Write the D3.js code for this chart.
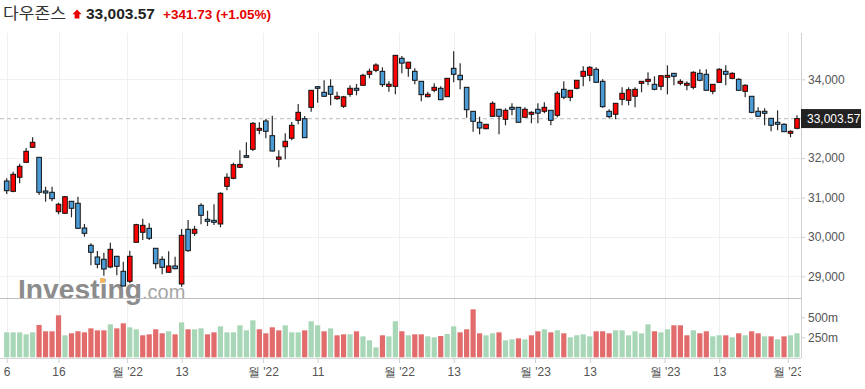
<!DOCTYPE html>
<html>
<head>
<meta charset="utf-8">
<script src="https://cdn.jsdelivr.net/npm/d3@7"></script>
<style>
  body { margin: 0; background: #fff; }
  svg { display: block; }
  text { font-family: "Liberation Sans", Arial, sans-serif; }
</style>
</head>
<body>
<div id="chart"></div>
<script>
// daily candles, Sep 6 2022 .. Mar 2 2023
var opens = [31419,31157,31513,31893,32274,32020,31165,31132,30640,30599,
  30904,30853,30226,29787,29490,29432,29236,29508,29127,28873,
  29863,30117,30218,29711,29432,29102,29262,28805,30193,30091,
  30802,30447,30421,30328,31284,31487,31767,32061,32223,32706,
  32942,32569,31970,32289,32503,32959,33000,33289,33812,33670,
  33822,33508,33315,33619,33772,33848,34127,34228,34203,33822,
  33822,34533,34279,34203,33949,33558,33721,33772,33558,34279,
  34102,33797,33188,32909,32746,33061,33239,32985,33289,33289,
  33036,33112,33239,33188,33213,33086,33746,33543,33772,34076,
  34102,34254,33949,33188,33112,33492,33467,33569,33898,33949,
  33873,33822,34051,34152,33898,33848,33797,34152,34127,33695,
  33924,34203,34025,34000,33695,33569,33188,33188,33010,32909,
  32858,32630,32756];
var highs = [31487,31655,31858,32256,32528,32030,31274,31274,30868,31038,
  30910,31020,30328,29838,29642,29599,29853,29515,29371,29650,
  30335,30462,30345,29720,29508,29635,29498,30201,30429,30277,
  30853,30665,30828,31132,31614,31883,32198,32401,32916,32909,
  32992,33076,32198,32629,32916,33373,33069,33730,33820,33975,
  34000,33685,33580,33848,33881,34142,34269,34406,34305,33949,
  34615,34591,34440,34279,33960,33685,33898,33822,34030,34711,
  34406,33800,33195,33051,32865,33442,33245,33264,33391,33295,
  33289,33188,33391,33416,33220,33695,33949,33730,33980,34330,
  34330,34305,34000,33239,33400,33797,33797,33797,33955,34178,
  34076,34110,34355,34160,34000,33949,34203,34254,34254,33880,
  34279,34355,34178,34025,33873,33575,33289,33264,33020,33213,
  32883,32706,33086];
var lows = [31089,31132,31360,31880,32260,31063,30893,30904,30574,30581,
  30498,30210,30005,29279,29203,29016,29203,29026,28740,28822,
  29860,29921,29921,29193,29051,29092,29180,28736,29624,30023,
  30320,30277,30302,30244,31183,31462,31749,32010,32180,32604,
  32503,32170,31767,31970,32452,32858,32510,33178,33406,33560,
  33340,33475,33272,33558,33594,33840,34025,34178,33805,33685,
  33619,34152,34066,33873,33442,33543,33670,33475,33550,33924,
  33746,33025,32670,32604,32731,33050,32604,32833,33086,32900,
  33030,32883,32883,33137,32833,33036,33492,33442,33746,33822,
  33949,33915,33279,33010,32985,33340,33340,33289,33670,33848,
  33721,33721,33619,33848,33848,33721,33746,33949,33715,33619,
  33915,33848,34000,33715,33543,33137,33055,32833,32680,32706,
  32665,32528,32731];
var closes = [31173,31589,31792,32173,32401,31132,31114,30970,30828,31020,
  30726,30218,30091,29609,29305,29185,29685,29254,28754,29508,
  30310,30294,29965,29320,29229,29262,29193,30041,29650,30193,
  30548,30396,30370,31107,31513,31833,31840,32020,32883,32756,
  32680,32180,32028,32426,32833,33162,32518,33721,33772,33569,
  33619,33569,33555,33772,33721,34102,34203,34363,33865,33875,
  34609,34410,34435,33975,33610,33620,33797,33482,34025,34127,
  33990,33228,32934,32764,32858,33391,33061,33213,33239,32909,
  33239,33162,33140,33289,32959,33645,33543,33721,33975,34203,
  34305,33924,33305,33051,33391,33645,33735,33745,33949,34000,
  33746,34090,34100,34076,33949,33898,34178,33975,33721,33873,
  34254,34127,34152,33721,33848,33162,33061,33137,32833,32858,
  32670,32680,33003.57];
// volume, millions
var volumes = [312,312,312,287,312,404,325,325,525,275,
  300,325,312,362,337,337,412,362,425,375,
  350,275,287,350,300,325,287,437,350,350,
  362,287,312,387,312,312,400,337,462,350,
  300,375,337,400,312,312,337,450,400,325,
  362,275,287,287,325,262,212,125,275,262,
  450,325,275,287,287,262,250,266,291,387,
  312,350,600,300,275,300,312,212,225,237,
  225,275,325,350,312,337,300,250,275,287,
  262,325,325,300,337,337,275,325,300,412,
  325,312,350,400,400,275,337,300,325,262,
  275,275,250,300,275,325,300,262,262,225,
  262,275,300];

var tickIdx = [0, 8, 18.55, 27, 39.55, 48, 60.55, 69, 81.55, 90, 101.55, 110, 120.6];
var tickLabels = ["6", "16", "월 '22", "13", "월 '22", "11", "월 '22", "13",
  "월 '23", "13", "월 '23", "13", "월 '23"];
// 33,000 sits under the last-price tag, so it has no label
var priceTicks = [29000, 30000, 31000, 32000, 34000];
var volTicks = [250, 500];
var lastPrice = 33003.57;

var width = 865, height = 389,
    plotRight = 801, plotTop = 33, priceBottom = 298, axisY = 358;

var x = d3.scaleLinear().domain([0, 122]).range([6.7, 797]);
var y = d3.scaleLinear().domain([29000, 34000]).range([276.3, 79.3]);
var yv = d3.scaleLinear().domain([0, 500]).range([357.3, 317.3]);

var svg = d3.select("#chart").append("svg")
    .attr("width", width)
    .attr("height", height);

svg.append("defs").append("clipPath").attr("id", "plotclip")
  .append("rect").attr("x", 0).attr("y", 0).attr("width", plotRight).attr("height", height);

// grid
svg.append("g").selectAll("line")
    .data(priceTicks)
    .enter().append("line")
    .attr("x1", 0).attr("x2", plotRight)
    .attr("y1", function(d) { return Math.round(y(d)) + 0.5; })
    .attr("y2", function(d) { return Math.round(y(d)) + 0.5; })
    .style("stroke", "#f0f0f0");

svg.append("g").selectAll("line")
    .data(tickIdx)
    .enter().append("line")
    .attr("x1", function(d) { return Math.round(x(d)) + 0.5; })
    .attr("x2", function(d) { return Math.round(x(d)) + 0.5; })
    .attr("y1", plotTop).attr("y2", axisY)
    .style("stroke", "#f0f0f0");

// watermark (sits behind the candles)
var wm = svg.append("text")
    .attr("x", 18).attr("y", 299)
    .style("font-size", "28px");
wm.append("tspan")
    .style("font-weight", "bold")
    .style("fill", "#8c8c8c")
    .attr("textLength", 124)
    .attr("lengthAdjust", "spacingAndGlyphs")
    .text("Investing");
wm.append("tspan")
    .style("font-size", "20px")
    .style("fill", "#a6a6a6")
    .text(".com");
svg.append("rect")
    .attr("x", 100).attr("y", 278).attr("width", 5).attr("height", 5)
    .style("fill", "#f5b75f");

// panel separators
svg.append("line")
    .attr("x1", 0).attr("x2", plotRight)
    .attr("y1", priceBottom + 0.5).attr("y2", priceBottom + 0.5)
    .style("stroke", "#bdbdbd");

svg.append("line")
    .attr("x1", plotRight + 0.5).attr("x2", plotRight + 0.5)
    .attr("y1", plotTop).attr("y2", axisY)
    .style("stroke", "#d0d0d0");

// last price dashed line
svg.append("line")
    .attr("x1", 0).attr("x2", plotRight)
    .attr("y1", y(lastPrice)).attr("y2", y(lastPrice))
    .style("stroke", "#c8c8c8")
    .style("stroke-width", 1.3)
    .style("stroke-dasharray", "4,3");

// volume bars
svg.append("g").selectAll("rect")
    .data(volumes)
    .enter().append("rect")
    .attr("x", function(d, i) { return x(i) - 2.6; })
    .attr("width", 5.2)
    .attr("y", function(d) { return yv(d); })
    .attr("height", function(d) { return yv(0) - yv(d); })
    .style("fill", function(d, i) {
        if (i == 0 || closes[i] >= closes[i - 1]) return "#a7d7b6";
        return "#e26c6c";
    });

// candles
var candles = svg.append("g").selectAll("g")
    .data(closes)
    .enter().append("g");

candles.append("line")
    .attr("x1", function(d, i) { return x(i); })
    .attr("x2", function(d, i) { return x(i); })
    .attr("y1", function(d, i) { return y(highs[i]); })
    .attr("y2", function(d, i) { return y(lows[i]); })
    .style("stroke", "#2b2b2b")
    .style("stroke-width", 1.2);

candles.append("rect")
    .attr("x", function(d, i) { return x(i) - 2.3; })
    .attr("width", 4.6)
    .attr("y", function(d, i) { return y(Math.max(opens[i], d)); })
    .attr("height", function(d, i) {
        return Math.max(1.5, Math.abs(y(opens[i]) - y(d)));
    })
    .style("fill", function(d, i) { return d >= opens[i] ? "#ff0000" : "#4b9bd6"; })
    .style("stroke", "#111")
    .style("stroke-width", 1);

// x axis
var xAxis = svg.append("g")
    .attr("clip-path", "url(#plotclip)")
    .attr("transform", "translate(0," + axisY + ")")
    .call(d3.axisBottom(x)
        .tickValues(tickIdx)
        .tickFormat(function(d, i) { return tickLabels[i]; })
        .tickSize(5)
        .tickPadding(4));
xAxis.select(".domain").attr("d", "M0,0.5H" + plotRight).style("stroke", "#d6d6d6");
xAxis.selectAll(".tick line").style("stroke", "#cfcfcf");
xAxis.selectAll("text")
    .style("font-family", "'Liberation Sans', Arial, sans-serif")
    .style("font-size", "12px")
    .style("fill", "#555");

// right price axis
var yAxis = svg.append("g")
    .attr("transform", "translate(" + plotRight + ",0)")
    .call(d3.axisRight(y)
        .tickValues(priceTicks)
        .tickFormat(d3.format(","))
        .tickSize(4)
        .tickPadding(3));
yAxis.select(".domain").remove();
yAxis.selectAll(".tick line").style("stroke", "#cfcfcf");
yAxis.selectAll("text")
    .style("font-family", "'Liberation Sans', Arial, sans-serif")
    .style("font-size", "12px")
    .style("fill", "#555");

var vAxis = svg.append("g")
    .attr("transform", "translate(" + plotRight + ",0)")
    .call(d3.axisRight(yv)
        .tickValues(volTicks)
        .tickFormat(function(d) { return d + "m"; })
        .tickSize(4)
        .tickPadding(3));
vAxis.select(".domain").remove();
vAxis.selectAll(".tick line").style("stroke", "#cfcfcf");
vAxis.selectAll("text")
    .style("font-family", "'Liberation Sans', Arial, sans-serif")
    .style("font-size", "12px")
    .style("fill", "#555");

// last price tag
svg.append("rect")
    .attr("x", plotRight).attr("y", y(lastPrice) - 9.5)
    .attr("width", 60).attr("height", 19)
    .style("fill", "#222");
svg.append("text")
    .attr("x", plotRight + 6).attr("y", y(lastPrice))
    .attr("dy", "0.35em")
    .style("font-size", "12px")
    .style("fill", "#fff")
    .text(d3.format(",.2f")(lastPrice));

// header
svg.append("text")
    .attr("x", 3).attr("y", 19)
    .attr("textLength", 63)
    .attr("lengthAdjust", "spacingAndGlyphs")
    .style("font-family", "'Noto Sans CJK KR', sans-serif")
    .style("font-size", "16px")
    .style("fill", "#333")
    .text("다우존스");

svg.append("path")
    .attr("d", "M77,9.5L81.5,14.2L79.4,14.2L79.4,18.5L74.6,18.5L74.6,14.2L72.5,14.2Z")
    .style("fill", "#e60000");

svg.append("text")
    .attr("x", 86).attr("y", 19)
    .style("font-size", "15.5px")
    .style("font-weight", "bold")
    .style("fill", "#222")
    .text(d3.format(",.2f")(lastPrice));

svg.append("text")
    .attr("x", 163).attr("y", 19)
    .style("font-size", "13.5px")
    .style("font-weight", "bold")
    .style("fill", "#e60000")
    .text("+341.73 (+1.05%)");
</script>
</body>
</html>
